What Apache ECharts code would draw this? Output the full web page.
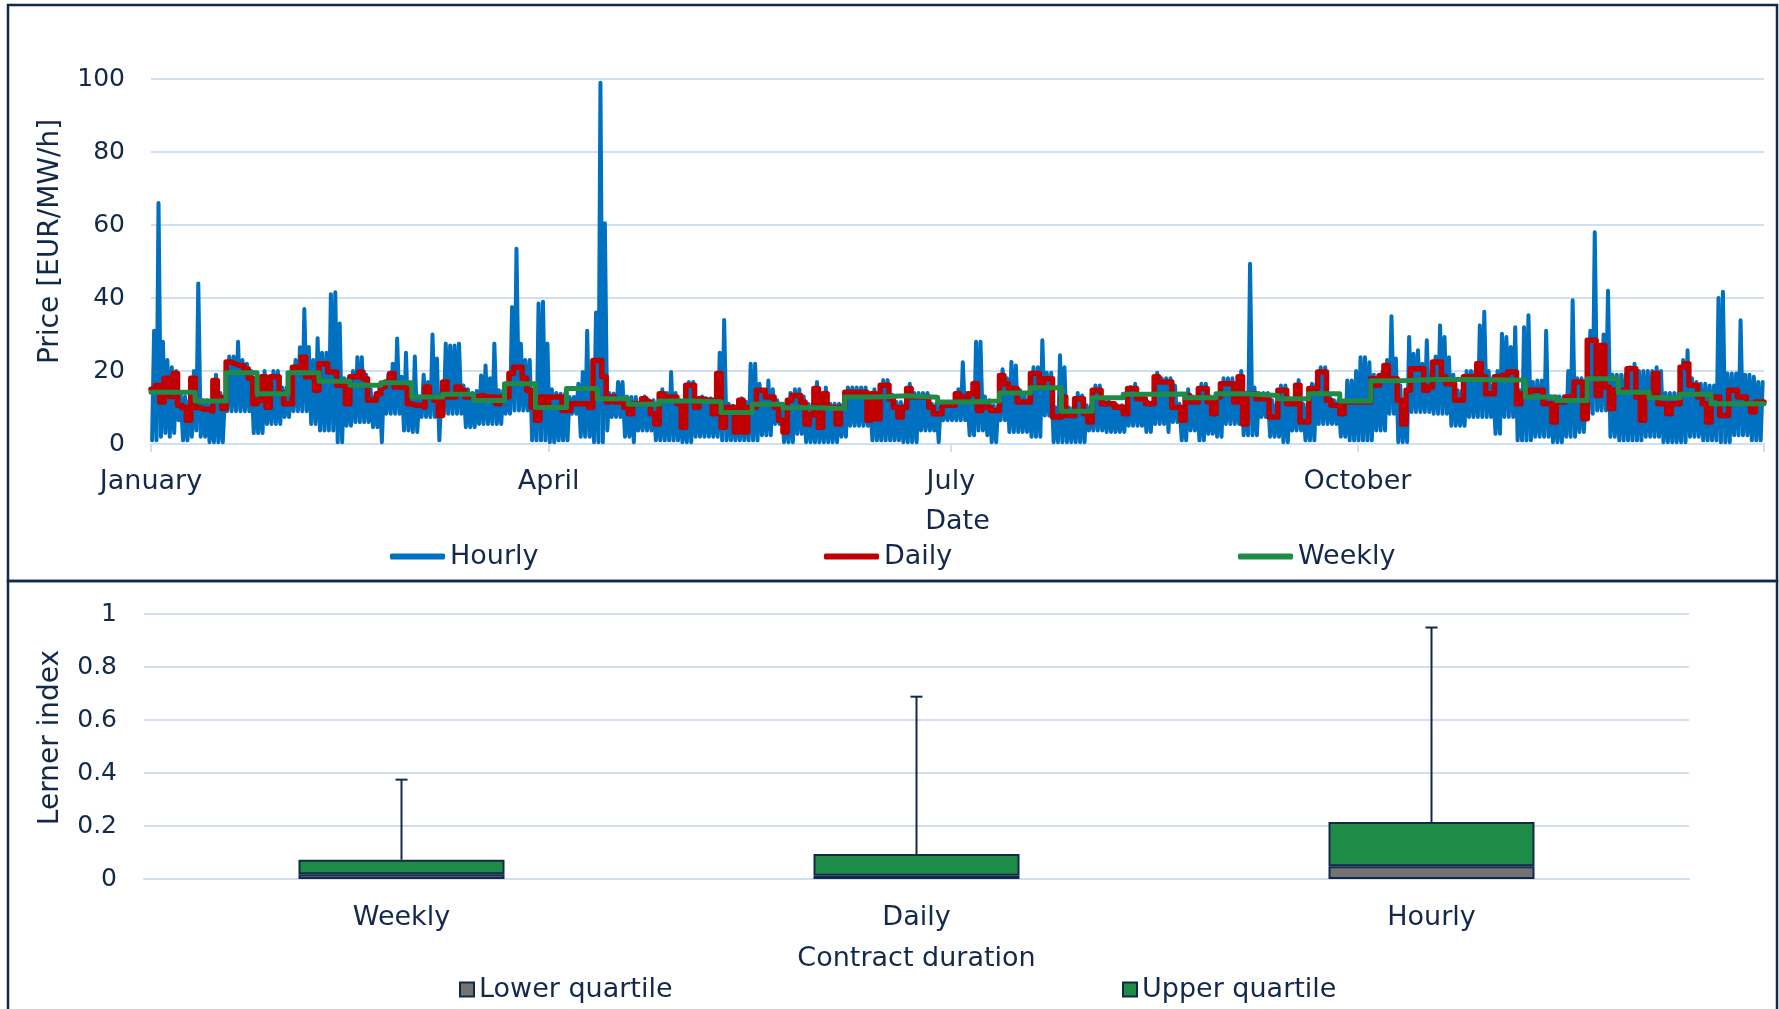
<!DOCTYPE html>
<html>
<head>
<meta charset="utf-8">
<title>Prices and Lerner index</title>
<script src="https://cdn.jsdelivr.net/npm/echarts@6/dist/echarts.min.js"></script>
<style>
  html, body { margin: 0; padding: 0; background: #fff; }
  #chart { width: 1779px; height: 1009px; }
</style>
</head>
<body>
<div id="chart"></div>
<script>
// date axis: day of year where each labelled month starts
const monthLabels = ['January', 'April', 'July', 'October'];
const monthStarts = [0, 90, 181, 273];
const yearEnd = 365;

// lowest and highest hourly price of every day
const hourlyLow = [1, 1, 2, 3, 2, 3, 6.5, 1, 1, 2,
  3.7, 2, 2, 0.5, 0.5, 0.5, 0.5, 9, 9, 9,
  9, 9, 9, 3, 3, 3, 5.5, 5.5, 5.5, 5.5,
  7.4, 7.4, 9, 9, 9, 9, 5.5, 5.5, 3.7, 3.7,
  3.7, 3.7, 0.5, 0.5, 5, 5, 6, 6, 6, 6,
  4.6, 4.6, 0.5, 8.3, 8.3, 8.3, 8.3, 3.7, 3.7, 3.3,
  3.3, 7.4, 7.4, 7.4, 7.4, 1, 8.3, 8.3, 8.3, 8.3,
  8.3, 4.6, 4.6, 4.6, 5.5, 5.5, 5.5, 5.5, 5.5, 5.5,
  8.3, 8.3, 9.2, 9.2, 9.2, 9.2, 1, 1, 1, 1,
  0.5, 0.5, 1, 1, 1, 8.3, 8.3, 2, 2, 2,
  0.5, 0.5, 0.5, 3.7, 7.4, 7.4, 7.4, 2, 2, 0.5,
  3.7, 3.7, 3.7, 3.7, 1, 1, 1, 1, 1, 1,
  0.5, 0.5, 0.5, 2, 2, 2, 2, 2, 2, 1,
  1, 1, 1, 1, 1, 1, 1, 1, 2.4, 2.4,
  2.4, 5.5, 5.5, 0.5, 0.5, 0.5, 2.8, 2.8, 0.5, 0.5,
  0.5, 0.5, 0.5, 0.5, 0.5, 0.5, 2, 2, 5, 5,
  5, 5, 5, 1, 1, 1, 1, 1, 1, 1,
  0.5, 0.5, 0.5, 0.5, 3.7, 3.7, 3.7, 3.7, 0.5, 6.5,
  6.5, 6.5, 6.5, 6.5, 6.5, 2.4, 2.4, 3.7, 3.7, 2.4,
  0.5, 0.5, 6.5, 6.5, 3.3, 3.3, 3.3, 3.3, 3.3, 2,
  2, 2, 7.8, 7.8, 0.5, 0.5, 0.5, 0.5, 0.5, 0.5,
  0.5, 0.5, 3.7, 3.7, 3.7, 3.7, 3.3, 3.3, 3.3, 3.3,
  3.3, 5, 5, 5, 5, 3.3, 3.3, 5.5, 5.5, 5.5,
  3.3, 6, 6, 1, 1, 3.7, 3.7, 1, 1, 2.8,
  2.8, 2, 2, 5.5, 5.5, 5.5, 5.5, 2.4, 2.4, 2.4,
  2.4, 7.4, 7.4, 2, 2, 2, 0.5, 0.5, 3.7, 3.7,
  3.7, 1, 1, 1, 5.5, 5.5, 5.5, 5.5, 5.5, 2,
  2, 1, 1, 1, 1, 1, 1, 3.7, 3.7, 3.7,
  8.3, 8.3, 0.5, 0.5, 0.5, 8.8, 8.8, 8.8, 8.8, 8.8,
  8.3, 8.3, 8.3, 8.3, 5, 5, 5, 5, 7.4, 7.4,
  7.4, 7.4, 7.4, 7.4, 2.8, 2.8, 7.4, 7.4, 7.4, 1,
  1, 1, 1, 2, 2, 2, 2, 0.5, 0.5, 0.5,
  2, 2, 2, 3.3, 3.3, 8.3, 8.3, 9.2, 9.2, 9.2,
  2, 2, 1, 1, 1, 1, 1, 1, 2, 2,
  2, 2, 0.5, 0.5, 0.5, 0.5, 0.5, 0.5, 2, 2,
  2, 1, 1, 1, 1, 0.5, 0.5, 0.5, 2.4, 2.4,
  2.4, 2.4, 1, 1, 1];

const hourlyHigh = [31, 66, 28, 23, 21, 20, 14, 13, 12, 20,
  44, 12, 12, 11, 19, 14, 12, 24, 24, 28,
  23, 22, 20, 14.7, 14.7, 20, 15.5, 20, 20, 15.5,
  15.5, 18, 23, 26.5, 37, 26.6, 23, 29, 25, 25,
  41, 41.6, 33, 18, 18, 20, 23.8, 23.8, 19, 15,
  13, 16, 17, 19, 22, 28.9, 18.4, 25, 16, 24,
  13, 19, 17, 30, 23.4, 13.8, 27.5, 27, 27, 27.5,
  16, 15, 14, 14.5, 18.8, 21.5, 18, 27.5, 14.7, 14.7,
  14.7, 37.5, 53.5, 27.5, 23, 23, 14.7, 38.5, 39, 27.5,
  15, 14, 13.8, 13.8, 12.9, 12.9, 16.5, 19.7, 31, 14,
  36, 99, 60.5, 14, 13.8, 17, 17, 13, 12.9, 12.9,
  11, 13, 12, 12, 10, 15, 14, 19.7, 14, 12,
  10, 17, 17, 12, 13, 12.5, 12.5, 12, 25, 34,
  11, 10.5, 10, 12.5, 11.5, 22, 22, 16.5, 13.8, 17.4,
  15, 12, 10.6, 10.6, 14, 15, 15, 13, 11, 11,
  17, 11, 15.5, 11, 11, 11, 11, 15.5, 15.5, 15.5,
  15.5, 15.5, 12, 15, 11, 17.5, 17.5, 13.5, 11.5, 11.5,
  11, 16.5, 14, 14, 14, 14, 11, 11, 11, 11,
  11.5, 10.6, 15, 22.4, 14, 14, 28, 28, 13, 12,
  10.5, 10.5, 20.5, 18, 22.5, 21.5, 14.7, 13, 13, 21,
  21, 28.4, 19.5, 19.5, 10, 24.3, 21, 10, 10, 14,
  13.3, 10.6, 10.6, 16, 16, 12, 12, 11, 10.6, 10.6,
  10.6, 15.6, 16.5, 13.5, 13.5, 11.5, 11.5, 19.5, 18, 18,
  18, 16, 11, 10, 15, 13, 13, 16.5, 16.5, 13,
  11, 14, 18, 18, 18, 13.5, 20, 13, 49.4, 15.5,
  14, 14, 14, 12, 11, 16, 16, 12.5, 12.5, 17.5,
  11, 11, 16.5, 16.5, 21, 21, 13.5, 12, 12, 11,
  17.4, 17.4, 20, 23.8, 23.8, 22.4, 19, 18.8, 20, 23,
  35, 23.4, 16, 12, 29.3, 24.7, 25.7, 22, 28.4, 18.4,
  24, 32.5, 29.3, 23.8, 19, 14.7, 14.7, 20, 20, 20,
  32.5, 36.2, 20, 16, 20, 30.2, 29.3, 26.6, 32, 14.7,
  32, 35.3, 17, 17.4, 17.4, 31, 13, 13, 13, 13,
  20, 39.4, 18, 18, 16, 31, 58, 19, 30, 42,
  19, 19, 19, 19, 21, 22, 20, 20, 20, 20,
  21, 20, 14, 14, 14, 14, 23, 25.7, 18, 17,
  16.5, 16.5, 16, 16, 40, 41.7, 19.3, 19.3, 19.3, 33.9,
  19, 19, 18.4, 17, 17];

// daily contract price, one value per day
const dailyPrice = [15, 16, 11.5, 18, 13, 19.3, 10.6, 10, 6.5, 18,
  10, 9.5, 9.5, 9, 17.4, 12.8, 9.7, 22.5, 22, 21.5,
  21.5, 20.6, 18, 11, 12, 18.4, 10.1, 18.4, 18.4, 14,
  11, 11, 21, 21, 23.8, 18.4, 18.4, 14.7, 22, 22,
  19.7, 19.7, 16.1, 16.1, 11, 18.4, 18.4, 19.7, 17.9, 12,
  12, 13.8, 15.6, 17, 19.3, 15.6, 15.6, 15.2, 11, 10.6,
  10.6, 10.1, 15.6, 12.9, 12, 7.8, 17, 12.9, 12.9, 15.6,
  14.7, 12.9, 12.9, 13, 13.3, 12.9, 12.9, 12.9, 11, 12.9,
  12.9, 19.3, 21, 21, 18, 14.7, 10.1, 6.5, 12.9, 11,
  12.9, 12.9, 12.9, 9.2, 9.2, 11, 11, 11, 11, 10.1,
  22.9, 22.9, 18.4, 11.5, 12.9, 11.5, 11.5, 10.1, 8.3, 11,
  11, 12.4, 11.5, 8.3, 5.5, 13.8, 12.9, 12.9, 12.9, 11,
  4.6, 16.1, 16.1, 10.1, 12.4, 12, 12, 8.3, 19.3, 4.6,
  10.1, 10.1, 3.3, 12, 3.3, 10.1, 10.1, 14.7, 14.7, 12.9,
  12.9, 10.1, 6.5, 3.3, 12, 13.3, 13.3, 11.5, 5.5, 8,
  15.2, 4.6, 13.8, 10.1, 10.1, 5.5, 10.1, 14.2, 14.2, 14.2,
  14.2, 14.2, 6.5, 13.8, 6.9, 16.1, 16.1, 12.4, 10.1, 7.4,
  10, 15.2, 12.9, 12.9, 12.9, 12.9, 10.1, 8.3, 8.3, 10.6,
  10.6, 10.6, 13.8, 12.9, 12.9, 13.8, 16.5, 9.2, 10.1, 10.1,
  9.2, 9.2, 18.8, 16.5, 15.2, 15.2, 11.5, 11.5, 11.5, 19.3,
  19.3, 16.1, 17.9, 17.9, 7.4, 7.4, 12.9, 7.8, 7.8, 12.4,
  12.4, 8.3, 6, 14.7, 14.7, 11, 11, 11, 10.1, 10.1,
  8.3, 15.2, 15.2, 12.4, 12.4, 11, 11, 18.4, 17, 17,
  17, 10.1, 10.1, 6.5, 13.3, 11.5, 11.5, 15.2, 15.2, 11.5,
  8.3, 12.9, 16.5, 16.5, 16.5, 11.5, 18.4, 5.5, 13.8, 13.8,
  12.4, 12.4, 12.4, 7.4, 7.4, 14.7, 14.7, 11, 11, 16.1,
  6, 6, 15.2, 15.2, 19.7, 19.7, 12, 10.6, 10.6, 8.3,
  11.5, 11.5, 11.5, 11.5, 11.5, 11.5, 17.9, 16.1, 18.8, 21.5,
  17.9, 17.9, 12, 5.5, 14.7, 20.6, 20.6, 20.6, 14.7, 15.6,
  22.5, 22.5, 18.4, 16.5, 16.5, 12, 12, 18.4, 18.4, 18.8,
  22, 18.4, 13.8, 13.8, 18.4, 18.8, 18.8, 19.7, 19.7, 11,
  13.8, 13.8, 14.7, 14.7, 14.7, 11, 11, 6, 11.5, 11.5,
  12.9, 12.9, 17, 17, 6.9, 28.4, 28.4, 13.3, 27, 15.6,
  9.7, 14.7, 14.7, 14.7, 20.6, 20.6, 12.9, 6.5, 13.8, 13.8,
  19.3, 11, 11, 8.3, 11, 11, 21, 22, 16.1, 16.1,
  12.9, 11, 6, 12.9, 12.9, 7.8, 7.8, 14.7, 14.7, 12.9,
  12.9, 11, 8.8, 11.5, 11.5];

// weekly contract price, week k covers days 7k-4 .. 7k+3
const weeklyPrice = [14.2, 14.2, 11.8, 19.5, 13.8, 19.5, 17.2, 16.1, 16.8, 12.9,
  13.6, 11.9, 16.5, 10, 15.2, 12.4, 10.9, 11.8, 11.6, 8.6,
  10.9, 9.9, 9.7, 12.9, 13.2, 12.8, 11.5, 11.8, 14, 15.4,
  9, 12.7, 13.6, 13.7, 12.7, 13.8, 13.3, 12.4, 13.8, 11.8,
  17.3, 17.7, 17.7, 17.6, 17.5, 12.9, 11.9, 17.9, 14.2, 12.7,
  13.6, 11, 11];

// Lerner index by contract duration
const durations = ['Weekly', 'Daily', 'Hourly'];
const lowerQuartile = [0.018, 0.012, 0.048];
const upperQuartile = [0.073, 0.094, 0.215];
const maxLerner = [0.375, 0.688, 0.949];

const navy = '#13294b';
const gridBlue = '#cfdff4';
const font = 'DejaVu Sans';
const blue = '#0070c0';
const red = '#c00000';
const green = '#1f8b47';
const grey = '#737373';

// two points a day for the hourly trace: the day's low then its high
const hourlyData = [];
hourlyLow.forEach((lo, d) => {
  hourlyData.push([d + 0.25, lo], [d + 0.7, hourlyHigh[d]]);
});
const dailyData = dailyPrice.map((v, d) => [d, v]);
dailyData.push([yearEnd, dailyPrice[dailyPrice.length - 1]]);
const weeklyData = weeklyPrice.map((v, k) => [Math.max(0, 7 * k - 4), v]);
weeklyData.push([yearEnd, weeklyPrice[weeklyPrice.length - 1]]);

const labelText = { fontFamily: font, fontSize: 27, color: navy };
const tickText = { fontFamily: font, fontSize: 25, color: navy };
const axisNameText = { fontFamily: font, fontSize: 28, color: navy };

function lineLegend(name, left) {
  return {
    data: [{ name: name, icon: 'roundRect' }],
    left: left, top: 538,
    itemWidth: 55, itemHeight: 6, itemGap: 0,
    textStyle: labelText
  };
}
function boxLegend(name, left) {
  return {
    data: [{ name: name, icon: 'rect', itemStyle: { borderColor: navy, borderWidth: 2 } }],
    left: left, top: 971,
    itemWidth: 14, itemHeight: 14, itemGap: 0,
    textStyle: labelText
  };
}

const chart = echarts.init(document.getElementById('chart'));
chart.setOption({
  animation: false,
  backgroundColor: '#fff',
  textStyle: { fontFamily: font, color: navy },
  graphic: [
    { type: 'rect', silent: true, shape: { x: 8, y: 5, width: 1769, height: 576 },
      style: { fill: null, stroke: navy, lineWidth: 2.5 } },
    { type: 'rect', silent: true, shape: { x: 8, y: 581, width: 1769, height: 440 },
      style: { fill: null, stroke: navy, lineWidth: 2.5 } }
  ],
  grid: [
    { left: 151, top: 79, width: 1613, height: 365 },
    { left: 144, top: 614, width: 1545, height: 265 }
  ],
  legend: [
    lineLegend('Hourly', 385),
    lineLegend('Daily', 819),
    lineLegend('Weekly', 1233),
    boxLegend('Lower quartile', 454),
    boxLegend('Upper quartile', 1117)
  ],
  xAxis: [
    {
      type: 'value', gridIndex: 0, min: 0, max: yearEnd,
      name: 'Date', nameLocation: 'middle', nameGap: 64,
      nameTextStyle: labelText,
      axisLine: { lineStyle: { color: gridBlue, width: 2 } },
      axisTick: { customValues: monthStarts.concat([yearEnd]), length: 8, lineStyle: { color: gridBlue, width: 2 } },
      axisLabel: {
        customValues: monthStarts, margin: 24, ...labelText,
        formatter: v => monthLabels[monthStarts.indexOf(Math.round(v))]
      },
      splitLine: { show: false }
    },
    {
      type: 'category', gridIndex: 1, data: durations,
      name: 'Contract duration', nameLocation: 'middle', nameGap: 66,
      nameTextStyle: labelText,
      axisLine: { lineStyle: { color: gridBlue, width: 2 } },
      axisTick: { show: false },
      axisLabel: { margin: 25, ...labelText }
    }
  ],
  yAxis: [
    {
      type: 'value', gridIndex: 0, min: 0, max: 100, interval: 20,
      name: 'Price [EUR/MW/h]', nameLocation: 'middle', nameRotate: 90, nameGap: 86,
      nameTextStyle: { ...axisNameText, padding: [0, 0, 0, 40] },
      axisLine: { show: false }, axisTick: { show: false },
      axisLabel: { margin: 26, ...tickText },
      splitLine: { lineStyle: { color: gridBlue, width: 2 } }
    },
    {
      type: 'value', gridIndex: 1, min: 0, max: 1, interval: 0.2,
      name: 'Lerner index', nameLocation: 'middle', nameRotate: 90, nameGap: 79,
      nameTextStyle: { ...axisNameText, padding: [0, 0, 0, 18] },
      axisLine: { show: false }, axisTick: { show: false },
      axisLabel: { margin: 27, ...tickText },
      splitLine: { lineStyle: { color: gridBlue, width: 2 } }
    }
  ],
  series: [
    {
      name: 'Hourly', type: 'line', xAxisIndex: 0, yAxisIndex: 0,
      data: hourlyData, showSymbol: false, sampling: null,
      itemStyle: { color: blue },
      lineStyle: { color: blue, width: 4, cap: 'round', join: 'round' }
    },
    {
      name: 'Daily', type: 'line', xAxisIndex: 0, yAxisIndex: 0,
      data: dailyData, step: 'end', showSymbol: false,
      itemStyle: { color: red },
      lineStyle: { color: red, width: 5.5, cap: 'round', join: 'round' }
    },
    {
      name: 'Weekly', type: 'line', xAxisIndex: 0, yAxisIndex: 0,
      data: weeklyData, step: 'end', showSymbol: false,
      itemStyle: { color: green },
      lineStyle: { color: green, width: 5, cap: 'round', join: 'round' }
    },
    {
      type: 'custom', xAxisIndex: 1, yAxisIndex: 1,
      data: durations.map((c, i) => [i, upperQuartile[i], maxLerner[i]]),
      renderItem: (params, api) => {
        const base = api.coord([api.value(0), api.value(1)]);
        const top = api.coord([api.value(0), api.value(2)]);
        const style = { stroke: navy, lineWidth: 2 };
        return {
          type: 'group',
          children: [
            { type: 'line', shape: { x1: base[0], y1: base[1], x2: top[0], y2: top[1] }, style: style },
            { type: 'line', shape: { x1: top[0] - 6, y1: top[1], x2: top[0] + 6, y2: top[1] }, style: style }
          ]
        };
      }
    },
    {
      name: 'Lower quartile', type: 'bar', xAxisIndex: 1, yAxisIndex: 1,
      stack: 'box', barWidth: '40%', data: lowerQuartile,
      itemStyle: { color: grey, borderColor: navy, borderWidth: 2 }
    },
    {
      name: 'Upper quartile', type: 'bar', xAxisIndex: 1, yAxisIndex: 1,
      stack: 'box', barWidth: '40%',
      data: upperQuartile.map((v, i) => +(v - lowerQuartile[i]).toFixed(3)),
      itemStyle: { color: '#1e8c47', borderColor: navy, borderWidth: 2 }
    }
  ]
});
window.addEventListener('resize', () => chart.resize());
</script>
</body>
</html>
